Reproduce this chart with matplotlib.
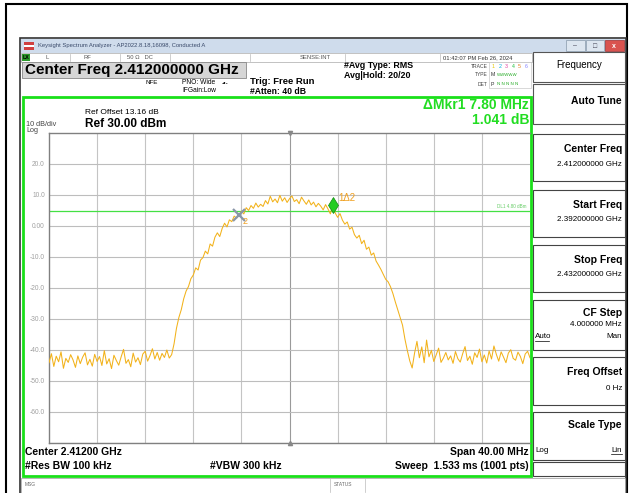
import numpy as np
import matplotlib.pyplot as plt
from matplotlib.patches import Rectangle

plt.rcParams['font.family'] = ['Liberation Sans', 'DejaVu Sans']

# trace, one value every 0.2 MHz from 2.392 to 2.432 GHz
start_ghz = 2.392
stop_ghz = 2.432
level_dbm = [
    -44.1, -41.2, -45.3, -42.0, -43.8, -40.6, -45.9, -42.7, -44.0, -41.5,
    -43.2, -45.6, -41.9, -44.4, -42.3, -40.9, -44.8, -43.0, -45.2, -41.4,
    -43.7, -42.1, -45.0, -40.2, -44.5, -42.8, -46.0, -41.7, -43.4, -44.9,
    -42.2, -39.8, -44.3, -43.1, -45.4, -41.0, -43.9, -42.5, -44.7, -41.3,
    -40.4, -43.6, -41.8, -39.6, -42.9, -40.8, -43.3, -41.1, -42.4, -40.0,
    -42.6, -41.5, -38.0, -33.0, -29.5, -27.0, -23.5, -21.0, -19.5, -17.0,
    -15.8, -13.5, -14.2, -11.0, -10.2, -8.1, -9.0, -5.8, -6.5, -3.6,
    -2.2, -3.4, -0.8, 0.9, -0.3, 2.0, 1.4, 3.2, 2.5, 3.6,
    4.8, 3.9, 5.9, 5.0, 6.6, 5.7, 7.4, 6.1, 7.0, 6.3,
    8.2, 7.1, 9.6, 7.8, 8.7, 7.5, 9.9, 8.0, 9.1, 7.6,
    8.8, 9.7, 7.9, 8.5, 7.2, 9.3, 8.1, 7.0, 8.4, 6.8,
    7.7, 6.2, 7.3, 6.4, 5.2, 6.9, 5.5, 3.9, 6.9, 4.2,
    2.8, 4.0, 1.9, 0.6, 1.3, -1.0, -0.4, -2.8, -3.9, -3.0,
    -5.7, -4.6, -7.5, -6.8, -9.4, -8.7, -11.3, -12.6, -14.0, -15.6,
    -17.2, -18.0, -19.6, -21.8, -24.5, -27.0, -29.4, -32.0, -36.5, -40.2,
    -43.5, -45.8, -41.0, -37.2, -42.5, -39.0, -44.1, -36.8, -42.2, -40.1,
    -43.7, -41.5, -39.4, -44.0, -42.6, -40.8, -43.2, -41.9, -44.3, -40.5,
    -42.8, -43.9, -41.2, -38.9, -43.4, -42.0, -44.6, -40.9, -42.4, -39.7,
    -43.8, -41.6, -44.2, -40.3, -42.9, -38.7, -41.4, -43.6, -40.6, -42.3,
    -44.1, -41.0, -39.9, -42.7, -43.3, -40.7, -42.1, -44.4, -41.3, -40.4,
    -42.5,
]
freq_ghz = np.linspace(start_ghz, stop_ghz, len(level_dbm))

ref_level = 30.0
db_per_div = 10
ytick_vals = [20, 10, 0, -10, -20, -30, -40, -50, -60]
ytick_text = ['20.0', '10.0', '0.00', '-10.0', '-20.0', '-30.0', '-40.0', '-50.0', '-60.0']
display_line = 4.8
mkr_ref = (2.4078, 3.5)     # marker 2 (X)
mkr_delta = (2.4156, 6.9)   # marker 1 delta 2 (diamond)

softkeys = [('Center Freq', '2.412000000 GHz'), ('Start Freq', '2.392000000 GHz'),
            ('Stop Freq', '2.432000000 GHz')]

fig = plt.figure(figsize=(6.31, 4.93), dpi=100)
bg = fig.add_axes([0, 0, 1, 1])
bg.set_xlim(0, 631)
bg.set_ylim(493, 0)
bg.axis('off')

def box(x0, y0, x1, y1, fc='white', ec='none', lw=0.8, z=1):
    bg.add_patch(Rectangle((x0, y0), x1 - x0, y1 - y0, fc=fc, ec=ec, lw=lw, zorder=z))

def txt(x, y, s, size=6, weight='normal', color='black', ha='left', z=5):
    bg.text(x, y, s, fontsize=size, fontweight=weight, color=color, ha=ha, va='center', zorder=z)

# outer frame and window
box(6, 4, 627, 497, fc='white', ec='black', lw=1.5)
box(20, 38, 626, 497, fc='white', ec='#333333', lw=1.2)

# title bar
box(21, 39, 625, 53, fc='#cfdcec')
box(24, 42, 34, 50, fc='#d04040')
box(24, 45, 34, 47, fc='white')
txt(38, 46, 'Keysight Spectrum Analyzer - AP2022.8.18,16098, Conducted A', size=4.2, color='#3a4a6a')
box(566, 40, 585, 51, fc='#dde6f0', ec='#8899aa', lw=0.5)
box(586, 40, 604, 51, fc='#dde6f0', ec='#8899aa', lw=0.5)
box(605, 40, 624, 51, fc='#d9534f', ec='#a03030', lw=0.5)
txt(575, 46, '–', size=5, color='#445', ha='center')
txt(595, 46, '□', size=5, color='#445', ha='center')
txt(614, 46, 'x', size=5, weight='bold', color='white', ha='center')

# status row
box(21, 53, 532, 62, fc='white', ec='#aaaaaa', lw=0.5)
box(22, 54, 30, 61, fc='#2a9a2a')
txt(26, 57.5, 'LX', size=3.8, weight='bold', color='black', ha='center')
for sx in [70, 120, 170, 250, 345, 440]:
    bg.plot([sx, sx], [54, 61], color='#bbbbbb', lw=0.5, zorder=3)
txt(46, 57.5, 'L', size=4.2, color='#555')
txt(84, 57.5, 'RF', size=4.2, color='#555')
txt(127, 57.5, '50 Ω   DC', size=4.2, color='#555')
txt(300, 57.5, 'SENSE:INT', size=4.2, color='#555')
txt(443, 57.5, '01:42:07 PM Feb 26, 2024', size=4.2, color='#333')

# header info
box(22, 62, 246, 78, fc='#d6d6d6', ec='#888888', lw=0.6)
txt(25, 70, 'Center Freq 2.412000000 GHz', size=11, weight='bold')
txt(145, 83, 'NFE', size=4.5)
txt(182, 83, 'PNO: Wide', size=4.8)
txt(222, 83, '-•-', size=4.8)
txt(182, 91, 'IFGain:Low', size=4.8)
txt(250, 82, 'Trig: Free Run', size=6.8, weight='bold')
txt(250, 91, '#Atten: 40 dB', size=6.2, weight='bold')
txt(344, 66, '#Avg Type: RMS', size=6.4, weight='bold')
txt(344, 75, 'Avg|Hold: 20/20', size=6.4, weight='bold')
txt(488, 66, 'TRACE', size=3.6, color='#444', ha='right')
txt(488, 75, 'TYPE', size=3.6, color='#444', ha='right')
txt(488, 84, 'DET', size=3.6, color='#444', ha='right')
box(489, 62, 531, 88, fc='white', ec='#bbbbbb', lw=0.4)
for k, c in enumerate(['#e8c800', '#00b0e0', '#e040a0', '#20c040', '#e08020', '#8080ff']):
    txt(492 + k * 6.5, 66, str(k + 1), size=3.8, color=c)
txt(491, 75, 'M', size=3.8, color='#333')
txt(497, 75, 'WWWWW', size=3.2, color='#2a2')
txt(491, 84, 'P', size=3.8, color='#333')
txt(497, 84, 'N N N N N', size=3.2, color='#2a2')

# right softkey panel
box(533, 52, 625, 82, fc='white', ec='#555555', lw=0.8)
txt(579, 65, 'Frequency', size=7, ha='center')
box(533, 84, 625, 124, fc='white', ec='#555555', lw=0.8)
txt(622, 101, 'Auto Tune', size=7.5, weight='bold', ha='right')
ky = 134
for name, val in softkeys:
    box(533, ky, 625, ky + 47, fc='white', ec='#444444', lw=0.8)
    txt(622, ky + 15, name, size=7.5, weight='bold', ha='right')
    txt(622, ky + 30, val, size=5.8, ha='right')
    ky += 55.5
box(533, 300, 625, 350, fc='white', ec='#444444', lw=0.8)
txt(622, 313, 'CF Step', size=7.5, weight='bold', ha='right')
txt(622, 325, '4.000000 MHz', size=5.8, ha='right')
txt(535, 337, 'Auto', size=5.8)
bg.plot([535, 549], [341, 341], color='black', lw=0.5)
txt(622, 337, 'Man', size=5.8, ha='right')
box(533, 357, 625, 405, fc='white', ec='#444444', lw=0.8)
txt(622, 372, 'Freq Offset', size=7.5, weight='bold', ha='right')
txt(622, 388, '0 Hz', size=5.8, ha='right')
box(533, 412, 625, 460, fc='white', ec='#444444', lw=0.8)
txt(622, 425, 'Scale Type', size=7.5, weight='bold', ha='right')
txt(535, 450, 'Log', size=5.8)
txt(622, 450, 'Lin', size=5.8, ha='right')
bg.plot([611, 622], [454, 454], color='black', lw=0.5)
box(533, 462, 625, 476, fc='white', ec='#444444', lw=0.8)

# green display frame
box(23, 97, 531, 476, fc='none', ec='#19e019', lw=2.0, z=4)
txt(529, 105, 'ΔMkr1 7.80 MHz', size=10, weight='bold', color='#22dd22', ha='right')
txt(529, 120, '1.041 dB', size=10, weight='bold', color='#22dd22', ha='right')
txt(85, 112, 'Ref Offset 13.16 dB', size=6)
txt(85, 124, 'Ref 30.00 dBm', size=8.5, weight='bold')
txt(26, 124, '10 dB/div', size=5.2, color='#444')
txt(26, 131, 'Log', size=5.2, color='#444')
txt(25, 452, 'Center 2.41200 GHz', size=7.5, weight='bold')
txt(25, 466, '#Res BW 100 kHz', size=7.5, weight='bold')
txt(210, 466, '#VBW 300 kHz', size=7.5, weight='bold')
txt(529, 452, 'Span 40.00 MHz', size=7.5, weight='bold', ha='right')
txt(529, 466, 'Sweep  1.533 ms (1001 pts)', size=7.5, weight='bold', ha='right')

# message bar
box(21, 478, 625, 493, fc='white', ec='#999999', lw=0.5)
bg.plot([330, 330], [479, 492], color='#bbbbbb', lw=0.5)
bg.plot([365, 365], [479, 492], color='#bbbbbb', lw=0.5)
txt(25, 485, 'MSG', size=3.5, color='#666')
txt(334, 485, 'STATUS', size=3.5, color='#666')

# graticule
ax = fig.add_axes([49 / 631, 1 - 443 / 493, 481 / 631, 310 / 493])
ax.set_xlim(start_ghz, stop_ghz)
ax.set_ylim(ref_level - 10 * db_per_div, ref_level)
ax.set_facecolor('none')
xgrid = np.linspace(start_ghz, stop_ghz, 11)
for xv in xgrid[1:-1]:
    ax.axvline(xv, color='#9a9a9a' if abs(xv - 2.412) < 1e-6 else '#c4c4c4', lw=0.8, zorder=1)
for yv in ytick_vals + [-70]:
    ax.axhline(yv, color='#bdbdbd', lw=0.8, zorder=1)
ax.set_xticks([])
ax.set_yticks(ytick_vals)
ax.set_yticklabels(ytick_text)
ax.tick_params(axis='y', length=0, pad=3, labelsize=4.8, labelcolor='#a0a0a0')
for side in ['left', 'top', 'bottom']:
    ax.spines[side].set_color('#808080')
    ax.spines[side].set_linewidth(1.0)
ax.spines['right'].set_visible(False)
ax.plot([2.412], [ref_level], marker='v', color='#888888', ms=3, clip_on=False, zorder=3)
ax.plot([2.412], [ref_level - 100], marker='^', color='#888888', ms=3, clip_on=False, zorder=3)

ax.axhline(display_line, color='#44e044', lw=0.9, zorder=2)
ax.text(stop_ghz - 0.0003, display_line + 0.6, 'DL1 4.80 dBm', fontsize=3.3, color='#66cc66',
        ha='right', va='bottom')

ax.plot(freq_ghz, level_dbm, color='#f2b21a', lw=0.75, zorder=3)

ax.plot(*mkr_ref, marker='x', ms=8, mew=1.6, color='#8a96a8', zorder=4)
ax.text(mkr_ref[0] + 0.0003, mkr_ref[1] - 3.0, '2', fontsize=6.5, color='#f0a020', zorder=4)
ax.plot(*mkr_delta, marker='d', ms=8, color='#22cc22', mec='#118811', mew=0.5, zorder=5)
ax.text(mkr_delta[0] + 0.0005, mkr_delta[1] + 1.3, '1Δ2', fontsize=7, color='#f0a020', zorder=4)

fig.savefig('out.png', dpi=100)
